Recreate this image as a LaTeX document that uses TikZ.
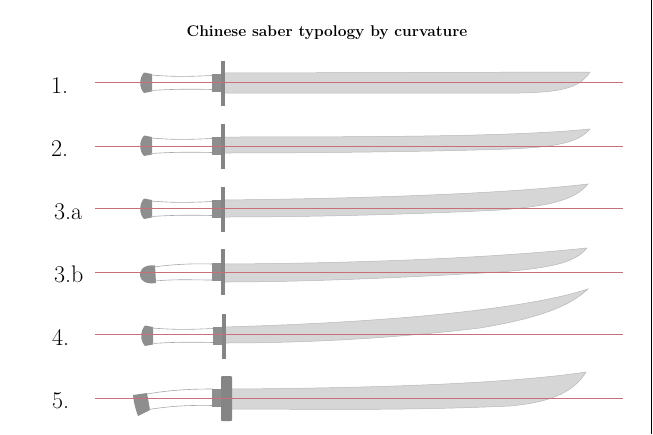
\documentclass[tikz,border=0pt]{standalone}
\definecolor{bladegray}{HTML}{D6D6D6}
\definecolor{bladeedge}{HTML}{B8B8B8}
\definecolor{fitgray}{HTML}{8E8E8E}
\definecolor{guardgray}{HTML}{858585}
\definecolor{gripedge}{HTML}{A8A8A8}
\definecolor{axisred}{HTML}{C8707A}
\tikzset{
  blade/.style={fill=bladegray, draw=bladeedge, line width=0.5pt},
  fitting/.style={fill=fitgray},
  guardbar/.style={fill=guardgray},
  gripline/.style={draw=gripedge, line width=0.6pt},
  axis/.style={draw=axisred, line width=1pt},
  lab/.style={font=\fontsize{24}{24}\selectfont, anchor=base west, inner sep=0pt},
  ttl/.style={font=\fontsize{15.5}{16}\selectfont\bfseries, inner sep=0pt},
}
\newcommand{\stdhilt}{%
  \fill[fitting] (152,-8) -- (144,-9.5) .. controls (139,-4) and (139,6) .. (144,11) -- (152,9.5) -- cycle;
  \draw[gripline] (151,-7) .. controls (175,-5) and (190,-5.5) .. (212,-6.5);
  \draw[gripline] (151,8.5) .. controls (175,7) and (190,7) .. (212,7.5);
  \fill[fitting] (212,-8.5) rectangle (222,9.5);
  \fill[guardbar] (221,-21.5) rectangle (225,23.5);
}
\begin{document}
\begin{tikzpicture}[x=1pt,y=-1pt]
\useasboundingbox (0,0) rectangle (653,434);
\fill[white] (0,0) rectangle (653,434);
\draw[black, line width=1.5pt] (651.5,0) -- (651.5,434);

\node[ttl] (title) at (327,33) {Chinese saber typology by curvature};

% labels
\node[lab] (l1) at (51,93) {1.};
\node[lab] (l2) at (51,156) {2.};
\node[lab] (l3a) at (54,219) {3.a};
\node[lab] (l3b) at (54,282) {3.b};
\node[lab] (l4) at (52,345) {4.};
\node[lab] (l5) at (52,408) {5.};

% row 1
\draw[blade] (224,73) -- (590,72) .. controls (580,87) and (565,92) .. (520,93) -- (224,93) -- cycle;
\begin{scope}[shift={(0,82)}]\stdhilt\end{scope}
\draw[axis] (95,82) -- (623,82);

% row 2
\draw[blade] (224,137) .. controls (400,137) and (520,136) .. (590,129)
  .. controls (578,143) and (555,147) .. (510,149)
  .. controls (420,152) and (300,153) .. (224,153) -- cycle;
\begin{scope}[shift={(0,145)}]\stdhilt\end{scope}
\draw[axis] (95,146) -- (623,146);

% row 3a
\draw[blade] (224,200) .. controls (400,198) and (520,192) .. (588,184)
  .. controls (575,200) and (550,206) .. (500,210)
  .. controls (400,215) and (300,217) .. (224,217) -- cycle;
\begin{scope}[shift={(0,208)}]\stdhilt\end{scope}
\draw[axis] (95,208) -- (623,208);

% row 3b
\draw[blade] (224,264) .. controls (400,263) and (520,255) .. (587,248)
  .. controls (575,263) and (550,268) .. (500,272)
  .. controls (400,278) and (300,282) .. (224,282) -- cycle;
\fill[fitting] (155,265.5) .. controls (142,264) and (139,272) .. (140,276)
  .. controls (141,281) and (146,284.5) .. (156,283) -- cycle;
\draw[gripline] (154,267) .. controls (175,264) and (195,263.5) .. (212,264);
\draw[gripline] (155,281) .. controls (175,279) and (195,280) .. (212,280);
\fill[fitting] (212,263) rectangle (222,281);
\fill[guardbar] (221,249) rectangle (225,295);
\draw[axis] (95,272) -- (623,272);

% row 4
\draw[blade] (224,327) .. controls (400,322) and (530,308) .. (588,289)
  .. controls (570,306) and (540,318) .. (480,328)
  .. controls (380,340) and (290,343) .. (224,343) -- cycle;
\begin{scope}[shift={(1,335)}]\stdhilt\end{scope}
\draw[axis] (95,334) -- (623,334);

% row 5
\draw[blade] (230,389) .. controls (400,388) and (520,382) .. (586,372)
  .. controls (575,390) and (555,402) .. (510,406)
  .. controls (400,411) and (300,409) .. (230,409) -- cycle;
\fill[fitting] (133,395) -- (147,393) -- (150,410) -- (138,416)
  .. controls (135,408) and (133.5,401) .. (133,395) -- cycle;
\draw[gripline] (147,394) .. controls (170,390) and (190,389) .. (213,389);
\draw[gripline] (149,409.5) .. controls (170,406) and (190,405) .. (213,405.5);
\fill[fitting] (212,388.5) rectangle (222,406.5);
\fill[guardbar, rounded corners=1pt] (221,376) rectangle (232,421);
\draw[axis] (95,398) -- (623,398);
\end{tikzpicture}
\end{document}
